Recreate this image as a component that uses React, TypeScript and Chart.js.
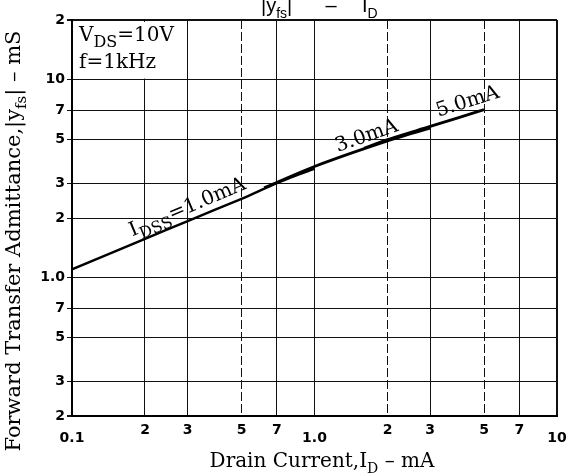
import React, { useEffect, useRef } from "react";
import { Chart, registerables } from "chart.js";

Chart.register(...registerables);

// ---- axis ticks ----
const xTickValues = [0.1, 0.2, 0.3, 0.5, 0.7, 1, 2, 3, 5, 7, 10];
const xTickLabels = ["0.1", "2", "3", "5", "7", "1.0", "2", "3", "5", "7", "10"];
const xMajorTicks = [0.1, 1, 10];
const xDashedTicks = [0.5, 2, 5];
const yTickValues = [0.2, 0.3, 0.5, 0.7, 1, 2, 3, 5, 7, 10, 20];
const yTickLabels = ["2", "3", "5", "7", "1.0", "2", "3", "5", "7", "10", "2"];

// ---- curves: drain current (mA) vs |yfs| (mS) ----
const idss1X = [0.1, 0.2, 0.3, 0.5, 0.7, 1.0];
const idss1Y = [1.1, 1.57, 1.93, 2.5, 3.0, 3.55];
const idss3X = [0.62, 1.0, 2.0, 3.0];
const idss3Y = [2.84, 3.64, 4.9, 5.68];
const idss5X = [1.6, 2.0, 3.0, 5.0];
const idss5Y = [4.5, 4.98, 5.8, 7.05];

type Seg = { t: string; sub?: boolean };

const SERIF = "'DejaVu Serif', serif";
const SANS = "'Liberation Sans', Arial, sans-serif";

function richWidth(ctx: CanvasRenderingContext2D, segs: Seg[], size: number, family: string, weight = "normal", subScale = 0.72) {
  let w = 0;
  for (const s of segs) {
    ctx.font = `${weight} ${s.sub ? Math.round(size * subScale) : size}px ${family}`;
    w += ctx.measureText(s.t).width;
  }
  return w;
}

function drawRich(
  ctx: CanvasRenderingContext2D,
  segs: Seg[],
  x: number,
  y: number,
  size: number,
  family: string,
  align: "left" | "center" | "right" = "left",
  weight = "normal",
  subScale = 0.72
) {
  const total = richWidth(ctx, segs, size, family, weight, subScale);
  let cx = align === "center" ? x - total / 2 : align === "right" ? x - total : x;
  ctx.textAlign = "left";
  ctx.textBaseline = "alphabetic";
  for (const s of segs) {
    ctx.font = `${weight} ${s.sub ? Math.round(size * subScale) : size}px ${family}`;
    ctx.fillText(s.t, cx, y + (s.sub ? size * 0.3 : 0));
    cx += ctx.measureText(s.t).width;
  }
}

function pointOnCurve(chart: any, xs: number[], ys: number[], xv: number) {
  const sx = chart.scales.x;
  const sy = chart.scales.y;
  let i = 0;
  while (i < xs.length - 2 && xs[i + 1] < xv) i++;
  const x1 = sx.getPixelForValue(xs[i]);
  const y1 = sy.getPixelForValue(ys[i]);
  const x2 = sx.getPixelForValue(xs[i + 1]);
  const y2 = sy.getPixelForValue(ys[i + 1]);
  const px = sx.getPixelForValue(xv);
  const t = (px - x1) / (x2 - x1);
  return { x: px, y: y1 + t * (y2 - y1), a: Math.atan2(y2 - y1, x2 - x1) };
}

const annotations = [
  { segs: [{ t: "I" }, { t: "DSS", sub: true }, { t: "=1.0mA" }] as Seg[], xs: idss1X, ys: idss1Y, at: 0.182, gap: 7 },
  { segs: [{ t: "3.0mA" }] as Seg[], xs: idss3X, ys: idss3Y, at: 1.27, gap: 6 },
  { segs: [{ t: "5.0mA" }] as Seg[], xs: idss5X, ys: idss5Y, at: 3.3, gap: 7 },
];

const textPlugin = {
  id: "textPlugin",
  beforeDatasetsDraw(chart: any) {
    const { ctx } = chart;
    const sx = chart.scales.x;
    const sy = chart.scales.y;
    // condition box (no grid inside)
    const l = sx.getPixelForValue(0.1) + 2;
    const r = sx.getPixelForValue(0.3) - 1;
    const t = sy.getPixelForValue(20) + 2;
    const b = sy.getPixelForValue(10) - 1;
    ctx.save();
    ctx.fillStyle = "#fff";
    ctx.fillRect(l, t, r - l, b - t);
    ctx.restore();
  },
  afterDraw(chart: any) {
    const { ctx } = chart;
    ctx.save();
    ctx.fillStyle = "#000";

    // top (clipped) title
    drawRich(ctx, [{ t: "|y" }, { t: "fs", sub: true }, { t: "|" }], 261, 12, 20, SANS);
    drawRich(ctx, [{ t: "–" }], 331, 12, 20, SANS, "center");
    drawRich(ctx, [{ t: "I" }, { t: "D", sub: true }], 362, 12, 20, SANS);

    // condition box text
    drawRich(ctx, [{ t: "V" }, { t: "DS", sub: true }, { t: "=10V" }], 79, 41, 20, SERIF, "left", "normal", 0.78);
    drawRich(ctx, [{ t: "f=1kHz" }], 79, 68, 20, SERIF);

    // x axis title
    drawRich(ctx, [{ t: "Drain Current,I" }, { t: "D", sub: true }, { t: " – mA" }], 322, 467, 20, SERIF, "center");

    // y axis title
    ctx.save();
    ctx.translate(20, 241);
    ctx.rotate(-Math.PI / 2);
    drawRich(
      ctx,
      [{ t: "Forward Transfer Admittance,|y" }, { t: "fs", sub: true }, { t: "| – mS" }],
      0,
      0,
      21,
      SERIF,
      "center"
    );
    ctx.restore();

    // curve annotations
    for (const an of annotations) {
      const p = pointOnCurve(chart, an.xs, an.ys, an.at);
      ctx.save();
      ctx.translate(p.x, p.y);
      ctx.rotate(p.a);
      drawRich(ctx, an.segs, 0, -an.gap, 20, SERIF, "left", "normal", 0.8);
      ctx.restore();
    }
    ctx.restore();
  },
};

const toPts = (xs: number[], ys: number[]) => xs.map((x, i) => ({ x, y: ys[i] }));

export default function App() {
  const ref = useRef<HTMLCanvasElement>(null);
  useEffect(() => {
    document.body.style.margin = "0";
    const canvas = ref.current!;
    const lineDs = (xs: number[], ys: number[], w: number) => ({
      data: toPts(xs, ys),
      borderColor: "#000",
      borderWidth: w,
      pointRadius: 0,
      tension: 0.25,
      fill: false,
    });
    const chart = new Chart(canvas, {
      type: "line",
      data: {
        datasets: [lineDs(idss1X, idss1Y, 2.4), lineDs(idss3X, idss3Y, 2.8), lineDs(idss5X, idss5Y, 2.8)] as any,
      },
      options: {
        responsive: false,
        animation: false,
        devicePixelRatio: 1,
        layout: { padding: { top: 20, right: 12, left: 0, bottom: 0 } },
        plugins: { legend: { display: false }, tooltip: { enabled: false }, title: { display: false } },
        scales: {
          x: {
            type: "logarithmic",
            min: 0.1,
            max: 10,
            position: "bottom",
            afterBuildTicks: (s: any) => {
              s.ticks = xTickValues.map((v) => ({ value: v }));
            },
            afterFit: (s: any) => {
              s.height = 57;
              s.paddingLeft = 0;
              s.paddingRight = 0;
            },
            ticks: {
              autoSkip: false,
              maxRotation: 0,
              minRotation: 0,
              padding: 10,
              color: "#000",
              font: { family: "'DejaVu Sans', sans-serif", size: 14, weight: "bold", lineHeight: "8px" } as any,
              callback: (_v: any, i: number) => {
                const v = xTickValues[i];
                const lab = xTickLabels[i];
                return xMajorTicks.includes(v) ? ["", lab] : lab;
              },
            },
            grid: {
              color: "#111",
              lineWidth: (c: any) => (c.tick && (c.tick.value === 10 || c.tick.value === 0.1) ? 2 : 1),
              drawTicks: false,
            },
            border: {
              color: "#000",
              width: 2,
              dash: (c: any) => (c.tick && xDashedTicks.includes(c.tick.value) ? [9, 3] : []),
            },
          } as any,
          y: {
            type: "logarithmic",
            min: 0.2,
            max: 20,
            afterBuildTicks: (s: any) => {
              s.ticks = yTickValues.map((v) => ({ value: v }));
            },
            afterFit: (s: any) => {
              s.width = 72;
              s.paddingTop = 0;
              s.paddingBottom = 0;
            },
            ticks: {
              autoSkip: false,
              padding: 2,
              color: "#000",
              font: { family: "'DejaVu Sans', sans-serif", size: 14, weight: "bold" },
              callback: (_v: any, i: number) => yTickLabels[i],
            },
            grid: {
              color: "#111",
              lineWidth: (c: any) => (c.tick && (c.tick.value === 20 || c.tick.value === 0.2) ? 2 : 1),
              drawTicks: true,
              tickLength: 5,
            },
            border: { color: "#000", width: 2 },
          } as any,
        },
      },
      plugins: [textPlugin],
    });
    return () => chart.destroy();
  }, []);
  return <canvas ref={ref} width={569} height={473} style={{ display: "block" }} />;
}
